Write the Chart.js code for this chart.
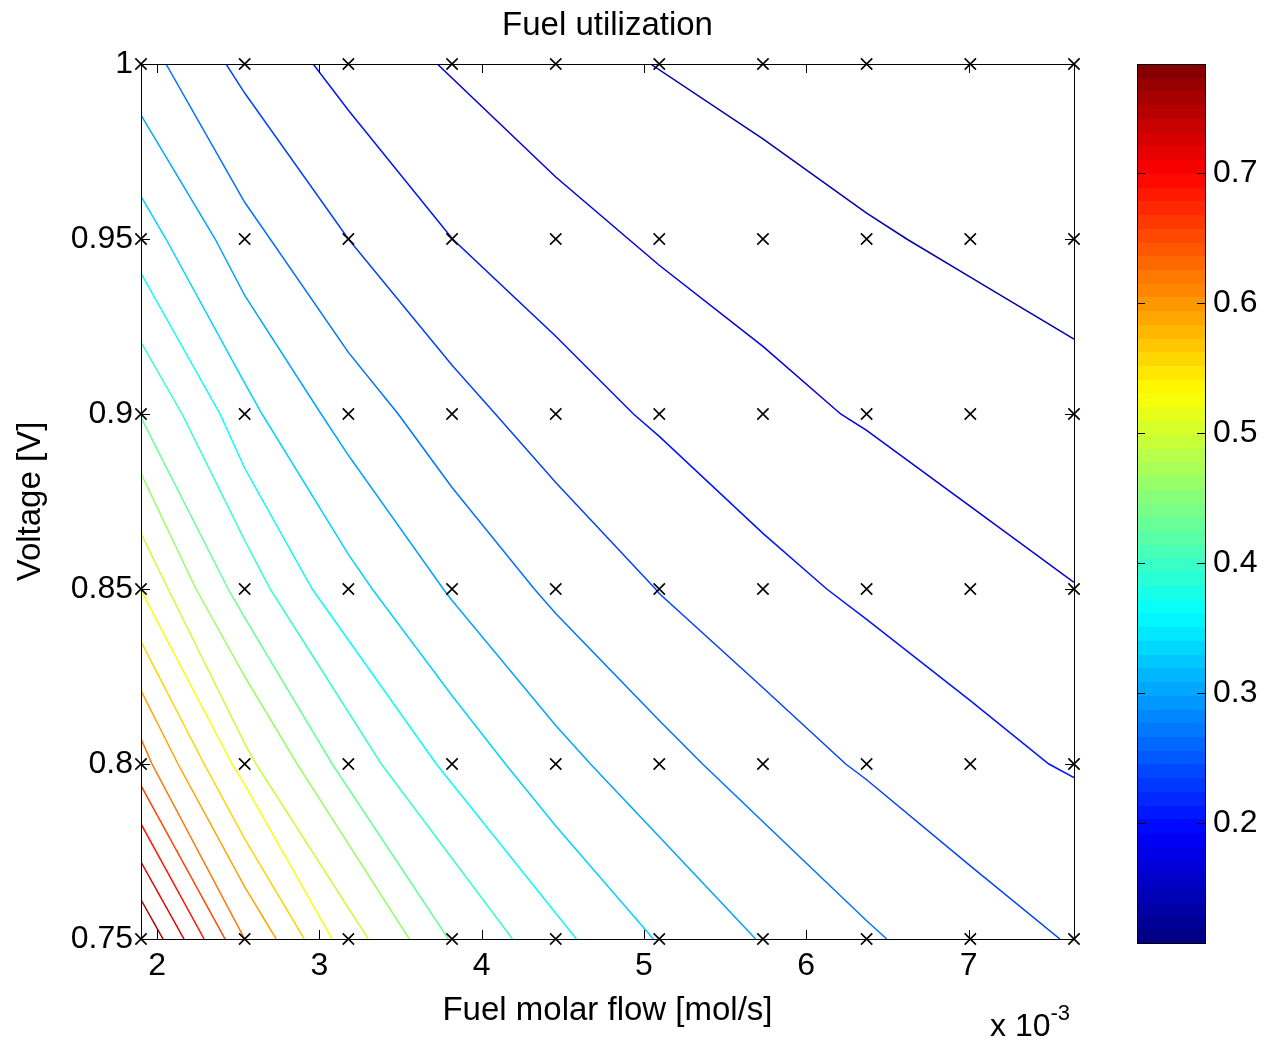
<!DOCTYPE html>
<html>
<head>
<meta charset="utf-8">
<script src="https://cdn.jsdelivr.net/npm/chart.js@4.4.0/dist/chart.umd.min.js"></script>
<style>
  body { margin: 0; background: #fff; }
  #wrap { position: relative; width: 1266px; height: 1044px; background: #fff; }
  #main { position: absolute; left: 0; top: 0; }
  #cbar { position: absolute; left: 1100px; top: 0; }
  #expo {
    position: absolute; left: 990px; top: 1009px;
    font: 32px "Liberation Sans", Arial, sans-serif; line-height: 1; color: #000;
    white-space: nowrap;
  }
  #expo span { position: relative; top: -16px; font-size: 22px; }
</style>
</head>
<body>
<div id="wrap">
  <canvas id="main" width="1266" height="1044"></canvas>
  <canvas id="cbar" width="166" height="1044"></canvas>
  <div id="expo">x 10<span>-3</span></div>
</div>
<script>
// ─── GRID (x marks) ───────────────────────────────────────────
// fuel molar flow in units of 1e-3 mol/s, voltage in V
const flowGrid    = [1.9, 2.539, 3.178, 3.817, 4.456, 5.094, 5.733, 6.372, 7.011, 7.65];
const voltageGrid = [0.75, 0.8, 0.85, 0.9, 0.95, 1.0];

// ─── AXES ─────────────────────────────────────────────────────
const xTicks  = [2, 3, 4, 5, 6, 7];
const yTicks  = [0.75, 0.8, 0.85, 0.9, 0.95, 1];
const cbTicks = [0.2, 0.3, 0.4, 0.5, 0.6, 0.7];
const cbRange = [0.108, 0.784];

// ─── CONTOUR LEVELS + LINES ──────────────────────────────────
const levels = [0.140, 0.172, 0.205, 0.237, 0.269, 0.301, 0.333, 0.366, 0.398, 0.430,
                0.462, 0.494, 0.527, 0.559, 0.591, 0.623, 0.655, 0.687, 0.720, 0.752];

const contourPaths = [
    [[5.040,1],[5.733,0.9786],[6.372,0.9574],[6.619,0.95],[7.011,0.9391],[7.65,0.9214]],
    [[3.726,1],[4.456,0.9677],[4.904,0.95],[5.094,0.9425],[5.733,0.9193],[6.212,0.9],[6.372,0.8953],[7.011,0.8736],[7.65,0.8519]],
    [[2.961,1],[3.178,0.9868],[3.82,0.95],[4.456,0.9222],[4.935,0.9],[5.094,0.8936],[5.733,0.8659],[6.126,0.85],[6.372,0.8413],[7.011,0.8181],[7.495,0.8],[7.65,0.7961]],
    [[2.424,1],[2.539,0.9917],[3.178,0.95],[3.817,0.9139],[4.084,0.9],[4.456,0.8804],[5.071,0.85],[5.094,0.8487],[5.733,0.8218],[6.243,0.8],[6.372,0.7955],[7.011,0.7709],[7.563,0.75]],
    [[2.054,1],[2.539,0.9605],[2.696,0.95],[3.178,0.9176],[3.485,0.9],[3.817,0.879],[4.324,0.85],[4.456,0.843],[5.094,0.8124],[5.361,0.8],[5.733,0.7835],[6.372,0.7552],[6.496,0.75]],
    [[1.9,0.9854],[2.357,0.95],[2.539,0.9339],[3.010,0.9],[3.178,0.8882],[3.763,0.85],[3.817,0.8467],[4.456,0.811],[4.670,0.8],[5.094,0.7792],[5.688,0.75]],
    [[1.9,0.9622],[2.054,0.95],[2.539,0.9088],[2.646,0.9],[3.178,0.8599],[3.325,0.85],[3.817,0.8195],[4.146,0.8],[4.456,0.7823],[5.058,0.75]],
    [[1.9,0.9402],[2.387,0.9],[2.539,0.8845],[2.955,0.85],[3.720,0.8],[4.583,0.75]],
    [[1.9,0.9205],[2.153,0.9],[2.539,0.8639],[2.696,0.85],[3.381,0.8],[4.189,0.75]],
    [[1.9,0.899],[2.437,0.85],[2.539,0.8418],[3.078,0.8],[3.794,0.75]],
    [[1.9,0.883],[2.239,0.85],[2.539,0.825],[2.862,0.8],[3.553,0.75]],
    [[1.9,0.8659],[2.067,0.85],[2.539,0.8058],[2.609,0.8],[3.300,0.75]],
    [[1.9,0.8496],[2.461,0.8],[2.539,0.7941],[3.078,0.75]],
    [[1.9,0.835],[2.289,0.8],[2.539,0.7786],[2.906,0.75]],
    [[1.9,0.821],[2.128,0.8],[2.539,0.7649],[2.733,0.75]],
    [[1.9,0.8072],[1.968,0.8],[2.539,0.75]],
    [[1.9,0.7938],[2.418,0.75]],
    [[1.9,0.7829],[2.289,0.75]],
    [[1.9,0.772],[2.165,0.75]],
    [[1.9,0.7612],[2.036,0.75]],
];

// ─── HELPERS ──────────────────────────────────────────────────
const FONT = '"Liberation Sans", Arial, Helvetica, sans-serif';
Chart.defaults.font.family = FONT;
Chart.defaults.color = '#000';

function jet(t) {
    const c = v => Math.round(255 * Math.max(0, Math.min(1, v)));
    return `rgb(${c(1.5 - Math.abs(4 * t - 3))},${c(1.5 - Math.abs(4 * t - 2))},${c(1.5 - Math.abs(4 * t - 1))})`;
}
const levelColor = lv => jet((lv - cbRange[0]) / (cbRange[1] - cbRange[0]));
const fmt = v => String(+v.toFixed(2));

// box + inward ticks, MATLAB style
function framePlugin(xs, ys, len) {
    return {
        id: 'frame',
        afterDatasetsDraw(chart) {
            const { ctx, chartArea: a, scales } = chart;
            ctx.save();
            ctx.strokeStyle = '#000';
            ctx.lineWidth = 1;
            ctx.strokeRect(a.left + 0.5, a.top + 0.5, a.right - a.left, a.bottom - a.top);
            ctx.beginPath();
            if (xs) xs.forEach(v => {
                const px = Math.round(scales.x.getPixelForValue(v)) + 0.5;
                ctx.moveTo(px, a.bottom); ctx.lineTo(px, a.bottom - len);
                ctx.moveTo(px, a.top);    ctx.lineTo(px, a.top + len);
            });
            ys.forEach(v => {
                const py = Math.round(scales.y.getPixelForValue(v)) + 0.5;
                ctx.moveTo(a.left, py);  ctx.lineTo(a.left + len, py);
                ctx.moveTo(a.right, py); ctx.lineTo(a.right - len, py);
            });
            ctx.stroke();
            ctx.restore();
        }
    };
}

// ─── MAIN CONTOUR CHART ──────────────────────────────────────
const lineSets = contourPaths.map((path, i) => ({
    data: path.map(([x, y]) => ({ x, y })),
    showLine: true,
    borderColor: levelColor(levels[i]),
    borderWidth: 1.5,
    pointRadius: 0,
    tension: 0,
    order: 1
}));

const markerSet = {
    data: voltageGrid.flatMap(v => flowGrid.map(f => ({ x: f, y: v }))),
    showLine: false,
    pointStyle: 'crossRot',
    pointRadius: 8,
    borderColor: '#000',
    borderWidth: 1.6,
    clip: false,
    order: 0
};

new Chart(document.getElementById('main'), {
    type: 'scatter',
    data: { datasets: [markerSet, ...lineSets] },
    options: {
        responsive: false,
        animation: false,
        layout: { padding: 0 },
        plugins: { legend: { display: false }, tooltip: { enabled: false } },
        scales: {
            x: {
                type: 'linear', position: 'bottom', min: 1.9, max: 7.65,
                afterBuildTicks: s => { s.ticks = xTicks.map(v => ({ value: v })); },
                ticks: { font: { size: 32 }, padding: 8, maxRotation: 0, autoSkip: false, callback: v => fmt(v) },
                grid: { display: false, drawTicks: false },
                border: { display: false },
                title: { display: true, text: 'Fuel molar flow [mol/s]', font: { size: 33 }, padding: { top: 0, bottom: 13 } },
                afterFit: s => { s.height = 105; }
            },
            y: {
                type: 'linear', position: 'left', min: 0.75, max: 1,
                afterBuildTicks: s => { s.ticks = yTicks.map(v => ({ value: v })); },
                ticks: { font: { size: 32 }, padding: 8, autoSkip: false, callback: v => fmt(v) },
                grid: { display: false, drawTicks: false },
                border: { display: false },
                title: { display: true, text: 'Voltage [V]', font: { size: 33 }, padding: { top: 11, bottom: 0 } },
                afterFit: s => { s.width = 141; }
            },
            xTop: {
                type: 'linear', position: 'top',
                ticks: { display: false },
                grid: { display: false, drawTicks: false },
                border: { display: false },
                title: { display: true, text: 'Fuel utilization', font: { size: 33 }, padding: { top: 6, bottom: 0 } },
                afterFit: s => { s.height = 64; }
            },
            yRight: {
                type: 'linear', position: 'right',
                ticks: { display: false },
                grid: { display: false, drawTicks: false },
                border: { display: false },
                afterFit: s => { s.width = 192; }
            }
        }
    },
    plugins: [framePlugin(xTicks, yTicks, 9)]
});

// ─── COLORBAR ─────────────────────────────────────────────────
function jetGradient(chart) {
    const { chartArea, scales } = chart;
    if (!chartArea) return '#000080';
    const y0 = scales.y.getPixelForValue(cbRange[0]);
    const y1 = scales.y.getPixelForValue(cbRange[1]);
    const g = chart.ctx.createLinearGradient(0, y0, 0, y1);
    for (let k = 0; k < 64; k++) {
        const col = jet((k + 0.5) / 64);
        g.addColorStop(k / 64, col);
        g.addColorStop((k + 1) / 64, col);
    }
    return g;
}

new Chart(document.getElementById('cbar'), {
    type: 'bar',
    data: {
        labels: [''],
        datasets: [{
            data: [cbRange],
            backgroundColor: ctx => jetGradient(ctx.chart),
            barPercentage: 1,
            categoryPercentage: 1,
            borderWidth: 0
        }]
    },
    options: {
        responsive: false,
        animation: false,
        layout: { padding: { left: 37, top: 64, bottom: 101, right: 0 } },
        plugins: { legend: { display: false }, tooltip: { enabled: false } },
        scales: {
            x: { display: false },
            y: {
                position: 'right', min: cbRange[0], max: cbRange[1],
                afterBuildTicks: s => { s.ticks = cbTicks.map(v => ({ value: v })); },
                ticks: { font: { size: 32 }, padding: 8, autoSkip: false, callback: v => fmt(v) },
                grid: { display: false, drawTicks: false },
                border: { display: false },
                afterFit: s => { s.width = 61; }
            }
        }
    },
    plugins: [framePlugin(null, cbTicks, 8)]
});
</script>
</body>
</html>
